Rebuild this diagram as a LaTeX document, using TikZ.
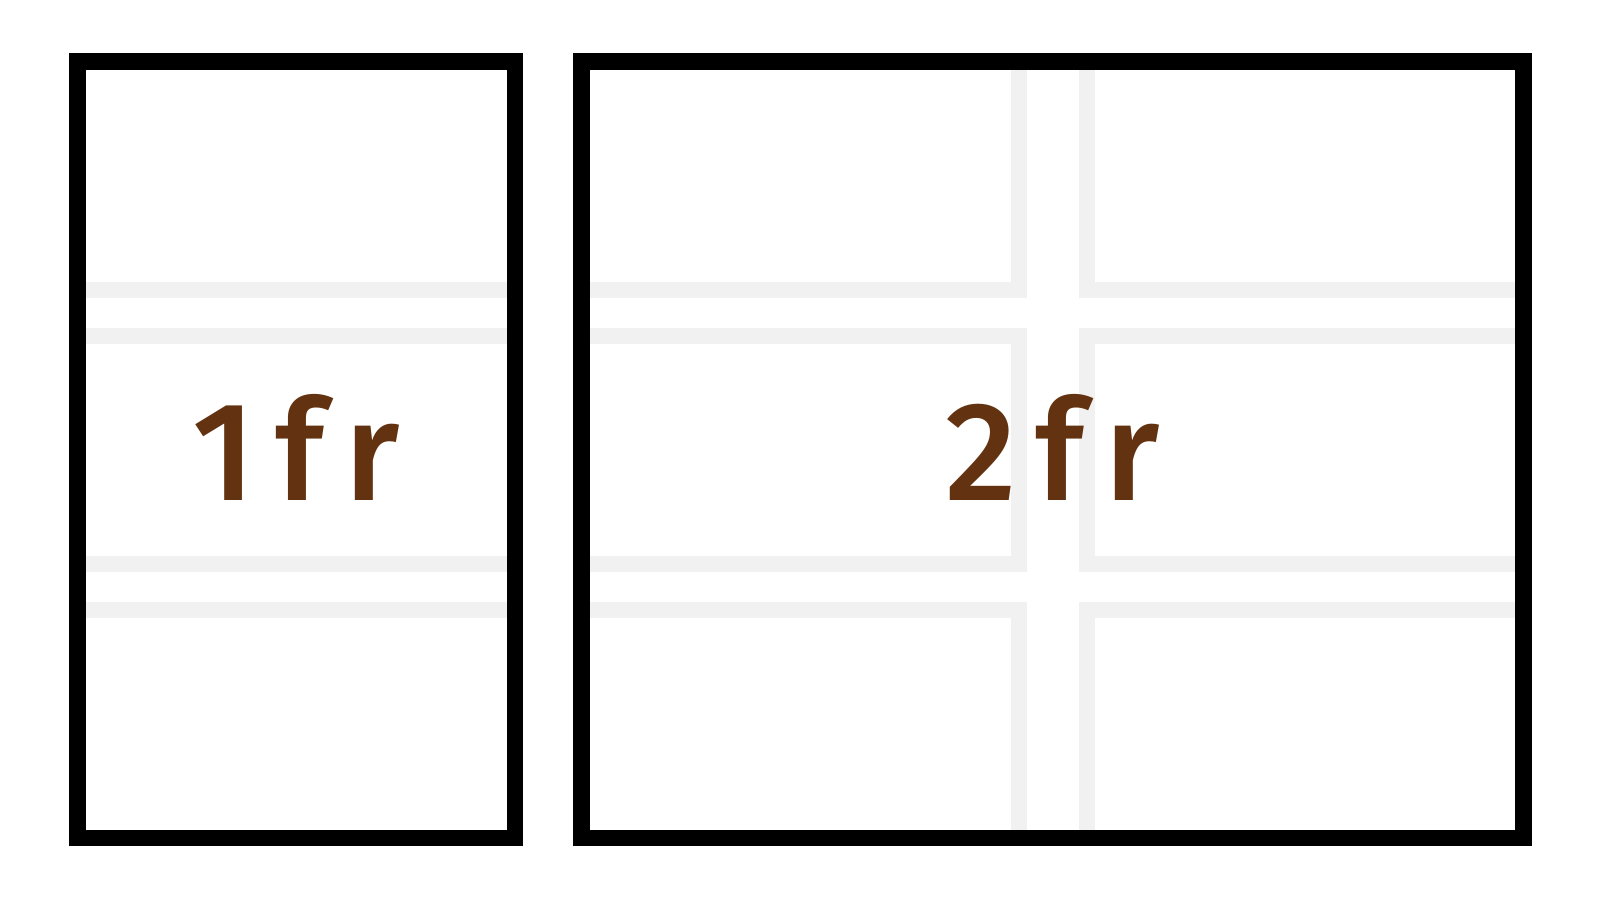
\documentclass[tikz,border=0pt]{standalone}
\usepackage{fontspec}
\newfontfamily\labfont[UprightFont=* Medium, LetterSpace=14]{Fira Sans}
\definecolor{gridgray}{RGB}{241,241,241}
\definecolor{frbrown}{RGB}{99,51,17}
\tikzset{
  cellbox/.style={draw=gridgray, line width=0.16cm},
  trackbox/.style={draw=black, line width=0.165cm},
  frlabel/.style={text=frbrown, font=\labfont\fontsize{40}{42}\selectfont, anchor=base, inner sep=0pt}
}
\begin{document}
\begin{tikzpicture}
\useasboundingbox (0,0) rectangle (16,9);
% grid cells, left track
\draw[cellbox] (0.773,8.383) rectangle (5.15,6.105);
\draw[cellbox] (0.773,5.645) rectangle (5.15,3.362);
\draw[cellbox] (0.773,2.903) rectangle (5.15,0.62);
% grid cells, right track
\draw[cellbox] (5.817,8.383) rectangle (10.187,6.105);
\draw[cellbox] (10.868,8.383) rectangle (15.233,6.105);
\draw[cellbox] (5.817,5.645) rectangle (10.187,3.362);
\draw[cellbox] (10.868,5.645) rectangle (15.233,3.362);
\draw[cellbox] (5.817,2.903) rectangle (10.187,0.62);
\draw[cellbox] (10.868,2.903) rectangle (15.233,0.62);
% tracks
\draw[trackbox] (0.773,8.383) rectangle (5.15,0.62);
\draw[trackbox] (5.817,8.383) rectangle (15.233,0.62);
% labels
\node[frlabel] (one) at (2.962,4.0) {1fr};
\node[frlabel] (two) at (10.525,4.0) {2fr};
\end{tikzpicture}
\end{document}
